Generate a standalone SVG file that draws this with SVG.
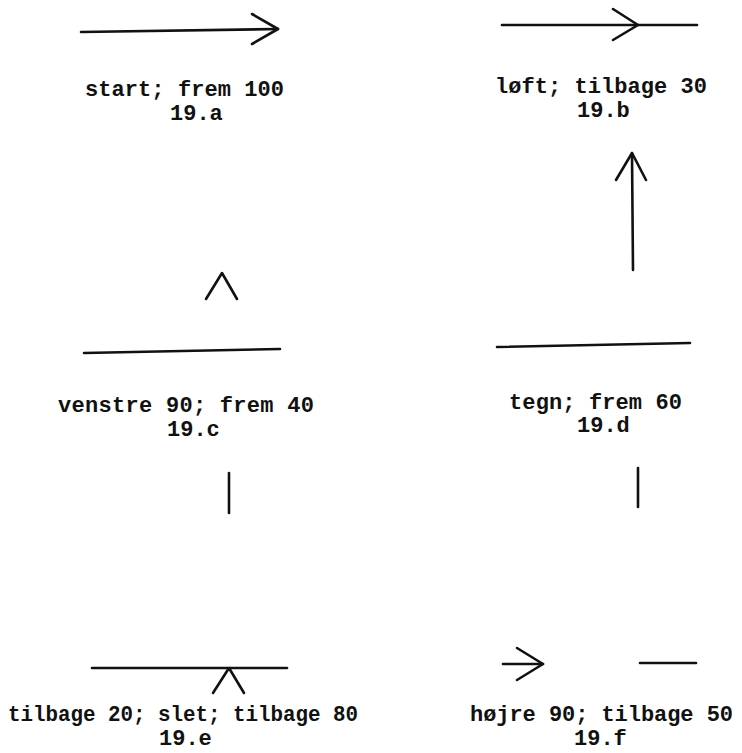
<svg xmlns="http://www.w3.org/2000/svg" width="742" height="753" viewBox="0 0 742 753">
  <style>
    .ink { stroke: #111; stroke-width: 2.6; fill: none; stroke-linecap: round; stroke-linejoin: round; }
    .cap { font-family: "Liberation Mono", "Courier New", monospace; font-weight: bold; font-size: 22px; fill: #111; }
  </style>
  <rect width="742" height="753" fill="#fff"/>

  <!-- 19.a : start; frem 100 -->
  <g id="fig-19a">
    <path class="ink" d="M81 32 L278 29"/>
    <path class="ink" d="M252 14 L278 29 L252 44"/>
    <text class="cap" x="85" y="96" textLength="199" lengthAdjust="spacing">start; frem 100</text>
    <text class="cap" x="170" y="120">19.a</text>
  </g>

  <!-- 19.b : løft; tilbage 30 -->
  <g id="fig-19b">
    <path class="ink" d="M502 25 L697 25"/>
    <path class="ink" d="M613 9 L638 25 L613 40"/>
    <text class="cap" x="495" y="93" textLength="212" lengthAdjust="spacing">løft; tilbage 30</text>
    <text class="cap" x="577" y="117">19.b</text>
  </g>

  <!-- 19.c : venstre 90; frem 40 -->
  <g id="fig-19c">
    <path class="ink" d="M206 299 L222 273 L237 299"/>
    <path class="ink" d="M84 353 L280 349"/>
    <text class="cap" x="58" y="412" textLength="256" lengthAdjust="spacing">venstre 90; frem 40</text>
    <text class="cap" x="167" y="436">19.c</text>
    <path class="ink" d="M229 473 L229 513"/>
  </g>

  <!-- 19.d : tegn; frem 60 -->
  <g id="fig-19d">
    <path class="ink" d="M632 153 L633 270"/>
    <path class="ink" d="M616 180 L632 153 L646 180"/>
    <path class="ink" d="M497 347 L690 343"/>
    <text class="cap" x="509" y="409" textLength="173" lengthAdjust="spacing">tegn; frem 60</text>
    <text class="cap" x="577" y="432">19.d</text>
    <path class="ink" d="M638 468 L638 507"/>
  </g>

  <!-- 19.e : tilbage 20; slet; tilbage 80 -->
  <g id="fig-19e">
    <path class="ink" d="M92 668 L287 668"/>
    <path class="ink" d="M213 693 L229 668 L244 693"/>
    <text class="cap" x="8" y="721" textLength="350" lengthAdjust="spacingAndGlyphs">tilbage 20; slet; tilbage 80</text>
    <text class="cap" x="159" y="745">19.e</text>
  </g>

  <!-- 19.f : højre 90; tilbage 50 -->
  <g id="fig-19f">
    <path class="ink" d="M503 664 L543 664"/>
    <path class="ink" d="M517 648 L543 664 L517 680"/>
    <path class="ink" d="M640 663 L696 663"/>
    <text class="cap" x="470" y="721" textLength="263" lengthAdjust="spacing">højre 90; tilbage 50</text>
    <text class="cap" x="574" y="745">19.f</text>
  </g>
</svg>
